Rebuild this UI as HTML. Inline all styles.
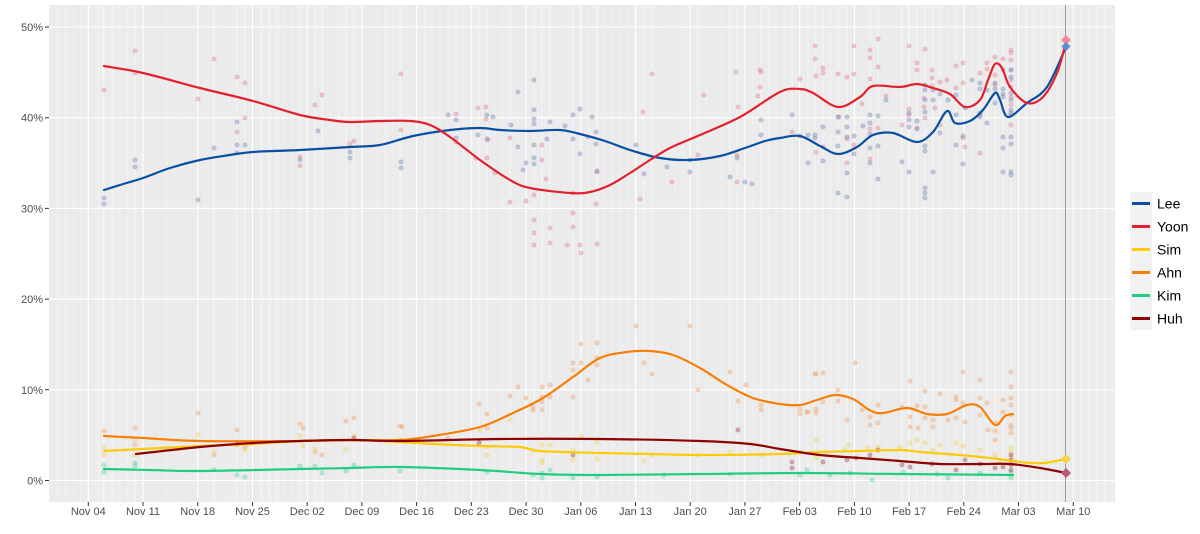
<!DOCTYPE html>
<html><head><meta charset="utf-8"><style>
html,body{margin:0;padding:0;background:#fff;}
svg{display:block;font-family:"Liberation Sans",Arial,sans-serif;}
</style></head><body>
<svg id="chart" width="1200" height="534" viewBox="0 0 1200 534" xmlns="http://www.w3.org/2000/svg">
<defs>
<pattern id="daily" patternUnits="userSpaceOnUse" x="87.8" y="0" width="7.817" height="534">
<rect x="0" y="0" width="1" height="534" fill="#f0f0f0"/>
</pattern>
<clipPath id="pc"><rect x="49" y="5" width="1066" height="497"/></clipPath>
</defs>
<rect x="49" y="5" width="1066" height="497" fill="#ebebeb"/>
<rect x="49" y="5" width="1066" height="497" fill="url(#daily)"/>
<g clip-path="url(#pc)">
<path stroke="#f4f4f4" stroke-width="1" fill="none" d="M99,5v497M103,5v497M113,5v497M104,5v497M135,5v497M214,5v497M237,5v497M245,5v497M262,5v497M270,5v497M278,5v497M300,5v497M315,5v497M322,5v497M346,5v497M354,5v497M400,5v497M456,5v497M478,5v497M487,5v497M510,5v497M534,5v497M542,5v497M550,5v497M573,5v497M597,5v497M636,5v497M644,5v497M652,5v497M698,5v497M730,5v497M737,5v497M761,5v497M792,5v497M808,5v497M815,5v497M823,5v497M838,5v497M847,5v497M870,5v497M878,5v497M902,5v497M917,5v497M925,5v497M933,5v497M940,5v497M956,5v497M980,5v497M987,5v497M995,5v497M1003,5v497M1011,5v497M1026,5v497M1034,5v497M1042,5v497M1050,5v497M1058,5v497M1081,5v497M1089,5v497M1097,5v497M1105,5v497"/>
<path stroke="#ffffff" stroke-width="1.1" fill="none" d="M49,480.5H1115M49,389.8H1115M49,299.1H1115M49,208.4H1115M49,117.7H1115M49,27H1115M88.3,5v497M143,5v497M197.7,5v497M252.5,5v497M307.2,5v497M361.9,5v497M416.6,5v497M471.3,5v497M526.1,5v497M580.8,5v497M635.5,5v497M690.2,5v497M744.9,5v497M799.7,5v497M854.4,5v497M909.1,5v497M963.8,5v497M1018.5,5v497M1073.3,5v497"/>
<line x1="1065.5" y1="5" x2="1065.5" y2="502" stroke="#9a9a9a" stroke-width="1"/>

<!-- Yoon points -->
<g fill="#e8899a" fill-opacity="0.45" stroke="#d06a7a" stroke-opacity="0.3" stroke-width="0.6">
<circle cx="104" cy="90" r="2.2"/><circle cx="135" cy="51" r="2.2"/><circle cx="135" cy="73" r="2.2"/><circle cx="198" cy="99" r="2.2"/><circle cx="214" cy="59" r="2.2"/><circle cx="237" cy="77" r="2.2"/><circle cx="245" cy="83" r="2.2"/><circle cx="245" cy="118" r="2.2"/><circle cx="237" cy="132" r="2.2"/><circle cx="300" cy="157" r="2.2"/><circle cx="300" cy="166" r="2.2"/><circle cx="315" cy="105" r="2.2"/><circle cx="322" cy="95" r="2.2"/><circle cx="350" cy="144" r="2.2"/><circle cx="354" cy="141" r="2.2"/><circle cx="401" cy="74" r="2.2"/><circle cx="401" cy="130" r="2.2"/><circle cx="456" cy="114" r="2.2"/><circle cx="456" cy="142" r="2.2"/><circle cx="478" cy="108" r="2.2"/><circle cx="486" cy="107" r="2.2"/><circle cx="486" cy="119" r="2.2"/><circle cx="488" cy="140" r="2.2"/><circle cx="476" cy="158" r="2.2"/><circle cx="495" cy="173" r="2.2"/><circle cx="487" cy="158" r="2.2"/><circle cx="510" cy="138" r="2.2"/><circle cx="510" cy="202" r="2.2"/><circle cx="526" cy="201" r="2.2"/><circle cx="534" cy="195" r="2.2"/><circle cx="546" cy="179" r="2.2"/><circle cx="542" cy="145" r="2.2"/><circle cx="542" cy="160" r="2.2"/><circle cx="550" cy="228" r="2.2"/><circle cx="534" cy="220" r="2.2"/><circle cx="534" cy="233" r="2.2"/><circle cx="534" cy="245" r="2.2"/><circle cx="550" cy="243" r="2.2"/><circle cx="567" cy="245" r="2.2"/><circle cx="573" cy="227" r="2.2"/><circle cx="573" cy="213" r="2.2"/><circle cx="573" cy="193" r="2.2"/><circle cx="580" cy="245" r="2.2"/><circle cx="581" cy="253" r="2.2"/><circle cx="597" cy="244" r="2.2"/><circle cx="596" cy="204" r="2.2"/><circle cx="597" cy="172" r="2.2"/><circle cx="588" cy="137" r="2.2"/><circle cx="640" cy="199" r="2.2"/><circle cx="652" cy="74" r="2.2"/><circle cx="643" cy="112" r="2.2"/><circle cx="672" cy="182" r="2.2"/><circle cx="698" cy="155" r="2.2"/><circle cx="704" cy="95" r="2.2"/><circle cx="737" cy="155" r="2.2"/><circle cx="737" cy="182" r="2.2"/><circle cx="736" cy="72" r="2.2"/><circle cx="738" cy="107" r="2.2"/><circle cx="758" cy="96" r="2.2"/><circle cx="760" cy="70" r="2.2"/><circle cx="760" cy="87" r="2.2"/><circle cx="761" cy="72" r="2.2"/>
<circle cx="815" cy="46" r="2.2"/><circle cx="815" cy="59" r="2.2"/><circle cx="800" cy="79" r="2.2"/><circle cx="816" cy="76" r="2.2"/><circle cx="823" cy="68" r="2.2"/><circle cx="823" cy="73" r="2.2"/><circle cx="838" cy="74" r="2.2"/><circle cx="847" cy="77" r="2.2"/><circle cx="854" cy="46" r="2.2"/><circle cx="854" cy="74" r="2.2"/><circle cx="870" cy="50" r="2.2"/><circle cx="870" cy="58" r="2.2"/><circle cx="870" cy="79" r="2.2"/><circle cx="878" cy="39" r="2.2"/><circle cx="878" cy="67" r="2.2"/><circle cx="886" cy="96" r="2.2"/><circle cx="839" cy="117" r="2.2"/><circle cx="847" cy="139" r="2.2"/><circle cx="854" cy="145" r="2.2"/><circle cx="847" cy="163" r="2.2"/><circle cx="816" cy="152" r="2.2"/><circle cx="862" cy="104" r="2.2"/><circle cx="909" cy="46" r="2.2"/><circle cx="917" cy="63" r="2.2"/><circle cx="917" cy="70" r="2.2"/><circle cx="925" cy="49" r="2.2"/><circle cx="932" cy="70" r="2.2"/><circle cx="932" cy="78" r="2.2"/><circle cx="932" cy="86" r="2.2"/><circle cx="924" cy="98" r="2.2"/><circle cx="924" cy="107" r="2.2"/><circle cx="909" cy="109" r="2.2"/><circle cx="909" cy="115" r="2.2"/><circle cx="902" cy="125" r="2.2"/><circle cx="917" cy="128" r="2.2"/><circle cx="947" cy="80" r="2.2"/><circle cx="940" cy="82" r="2.2"/><circle cx="956" cy="66" r="2.2"/><circle cx="963" cy="63" r="2.2"/><circle cx="956" cy="88" r="2.2"/><circle cx="963" cy="83" r="2.2"/><circle cx="980" cy="73" r="2.2"/><circle cx="987" cy="63" r="2.2"/><circle cx="987" cy="69" r="2.2"/><circle cx="995" cy="57" r="2.2"/><circle cx="995" cy="75" r="2.2"/><circle cx="1003" cy="59" r="2.2"/><circle cx="1003" cy="70" r="2.2"/><circle cx="1011" cy="50" r="2.2"/><circle cx="1011" cy="53" r="2.2"/><circle cx="1011" cy="60" r="2.2"/><circle cx="1011" cy="70" r="2.2"/><circle cx="1011" cy="80" r="2.2"/><circle cx="1011" cy="87" r="2.2"/><circle cx="1011" cy="97" r="2.2"/><circle cx="1011" cy="105" r="2.2"/><circle cx="1011" cy="115" r="2.2"/><circle cx="1011" cy="125" r="2.2"/><circle cx="995" cy="85" r="2.2"/><circle cx="980" cy="115" r="2.2"/><circle cx="980" cy="153" r="2.2"/><circle cx="965" cy="147" r="2.2"/><circle cx="963" cy="138" r="2.2"/><circle cx="940" cy="125" r="2.2"/><circle cx="935" cy="108" r="2.2"/><circle cx="925" cy="118" r="2.2"/><circle cx="792" cy="132" r="2.2"/><circle cx="823" cy="147" r="2.2"/><circle cx="870" cy="129" r="2.2"/><circle cx="878" cy="128" r="2.2"/><circle cx="870" cy="159" r="2.2"/>
</g>
<!-- Lee points -->
<g fill="#7e92c0" fill-opacity="0.45" stroke="#5c6e9c" stroke-opacity="0.3" stroke-width="0.6">
<circle cx="237" cy="122" r="2.2"/><circle cx="237" cy="145" r="2.2"/><circle cx="245" cy="145" r="2.2"/><circle cx="237" cy="153" r="2.2"/><circle cx="214" cy="148" r="2.2"/><circle cx="135" cy="160" r="2.2"/><circle cx="135" cy="167" r="2.2"/><circle cx="104" cy="198" r="2.2"/><circle cx="104" cy="204" r="2.2"/><circle cx="198" cy="200" r="2.2"/><circle cx="318" cy="131" r="2.2"/><circle cx="350" cy="152" r="2.2"/><circle cx="350" cy="158" r="2.2"/><circle cx="300" cy="160" r="2.2"/><circle cx="401" cy="162" r="2.2"/><circle cx="401" cy="168" r="2.2"/><circle cx="448" cy="115" r="2.2"/><circle cx="456" cy="120" r="2.2"/><circle cx="456" cy="138" r="2.2"/><circle cx="478" cy="135" r="2.2"/><circle cx="487" cy="115" r="2.2"/><circle cx="487" cy="139" r="2.2"/><circle cx="493" cy="117" r="2.2"/><circle cx="511" cy="125" r="2.2"/><circle cx="518" cy="92" r="2.2"/><circle cx="518" cy="147" r="2.2"/><circle cx="523" cy="170" r="2.2"/><circle cx="526" cy="163" r="2.2"/><circle cx="534" cy="80" r="2.2"/><circle cx="534" cy="110" r="2.2"/><circle cx="534" cy="119" r="2.2"/><circle cx="534" cy="124" r="2.2"/><circle cx="534" cy="158" r="2.2"/><circle cx="534" cy="164" r="2.2"/><circle cx="534" cy="145" r="2.2"/><circle cx="547" cy="139" r="2.2"/><circle cx="550" cy="122" r="2.2"/><circle cx="565" cy="126" r="2.2"/><circle cx="573" cy="115" r="2.2"/><circle cx="573" cy="139" r="2.2"/><circle cx="580" cy="109" r="2.2"/><circle cx="580" cy="154" r="2.2"/><circle cx="592" cy="117" r="2.2"/><circle cx="596" cy="132" r="2.2"/><circle cx="596" cy="144" r="2.2"/><circle cx="597" cy="171" r="2.2"/><circle cx="636" cy="145" r="2.2"/><circle cx="644" cy="174" r="2.2"/><circle cx="690" cy="172" r="2.2"/><circle cx="730" cy="177" r="2.2"/><circle cx="737" cy="158" r="2.2"/><circle cx="761" cy="120" r="2.2"/><circle cx="761" cy="135" r="2.2"/><circle cx="745" cy="182" r="2.2"/><circle cx="752" cy="184" r="2.2"/><circle cx="667" cy="167" r="2.2"/><circle cx="690" cy="160" r="2.2"/>
<circle cx="792" cy="115" r="2.2"/><circle cx="800" cy="136" r="2.2"/><circle cx="808" cy="135" r="2.2"/><circle cx="815" cy="135" r="2.2"/><circle cx="815" cy="138" r="2.2"/><circle cx="823" cy="127" r="2.2"/><circle cx="823" cy="161" r="2.2"/><circle cx="808" cy="163" r="2.2"/><circle cx="838" cy="117" r="2.2"/><circle cx="838" cy="132" r="2.2"/><circle cx="838" cy="146" r="2.2"/><circle cx="847" cy="117" r="2.2"/><circle cx="847" cy="127" r="2.2"/><circle cx="847" cy="137" r="2.2"/><circle cx="854" cy="136" r="2.2"/><circle cx="854" cy="154" r="2.2"/><circle cx="863" cy="126" r="2.2"/><circle cx="870" cy="115" r="2.2"/><circle cx="870" cy="123" r="2.2"/><circle cx="870" cy="134" r="2.2"/><circle cx="870" cy="148" r="2.2"/><circle cx="870" cy="163" r="2.2"/><circle cx="878" cy="116" r="2.2"/><circle cx="878" cy="146" r="2.2"/><circle cx="878" cy="179" r="2.2"/><circle cx="886" cy="100" r="2.2"/><circle cx="902" cy="162" r="2.2"/><circle cx="909" cy="113" r="2.2"/><circle cx="909" cy="120" r="2.2"/><circle cx="909" cy="127" r="2.2"/><circle cx="909" cy="172" r="2.2"/><circle cx="917" cy="121" r="2.2"/><circle cx="917" cy="129" r="2.2"/><circle cx="925" cy="85" r="2.2"/><circle cx="925" cy="90" r="2.2"/><circle cx="925" cy="100" r="2.2"/><circle cx="925" cy="112" r="2.2"/><circle cx="925" cy="146" r="2.2"/><circle cx="925" cy="151" r="2.2"/><circle cx="925" cy="188" r="2.2"/><circle cx="925" cy="193" r="2.2"/><circle cx="925" cy="198" r="2.2"/><circle cx="933" cy="90" r="2.2"/><circle cx="933" cy="100" r="2.2"/><circle cx="933" cy="172" r="2.2"/><circle cx="940" cy="94" r="2.2"/><circle cx="940" cy="133" r="2.2"/><circle cx="948" cy="100" r="2.2"/><circle cx="956" cy="95" r="2.2"/><circle cx="956" cy="115" r="2.2"/><circle cx="956" cy="145" r="2.2"/><circle cx="963" cy="136" r="2.2"/><circle cx="963" cy="164" r="2.2"/><circle cx="965" cy="108" r="2.2"/><circle cx="972" cy="80" r="2.2"/><circle cx="980" cy="83" r="2.2"/><circle cx="980" cy="89" r="2.2"/><circle cx="980" cy="113" r="2.2"/><circle cx="980" cy="117" r="2.2"/><circle cx="987" cy="90" r="2.2"/><circle cx="987" cy="123" r="2.2"/><circle cx="995" cy="83" r="2.2"/><circle cx="995" cy="89" r="2.2"/><circle cx="1003" cy="89" r="2.2"/><circle cx="1003" cy="94" r="2.2"/><circle cx="1003" cy="97" r="2.2"/><circle cx="1003" cy="137" r="2.2"/><circle cx="1003" cy="148" r="2.2"/><circle cx="1003" cy="172" r="2.2"/><circle cx="1011" cy="70" r="2.2"/><circle cx="1011" cy="77" r="2.2"/><circle cx="1011" cy="93" r="2.2"/><circle cx="1011" cy="100" r="2.2"/><circle cx="1011" cy="110" r="2.2"/><circle cx="1011" cy="113" r="2.2"/><circle cx="1011" cy="137" r="2.2"/><circle cx="1011" cy="144" r="2.2"/><circle cx="1011" cy="172" r="2.2"/><circle cx="1011" cy="175" r="2.2"/><circle cx="838" cy="193" r="2.2"/><circle cx="847" cy="197" r="2.2"/><circle cx="847" cy="173" r="2.2"/><circle cx="995" cy="103" r="2.2"/>
</g>
<!-- Ahn points -->
<g fill="#f4a064" fill-opacity="0.4" stroke="#e08040" stroke-opacity="0.25" stroke-width="0.6">
<circle cx="104" cy="431" r="2.2"/><circle cx="135" cy="428" r="2.2"/><circle cx="135" cy="445" r="2.2"/><circle cx="198" cy="413" r="2.2"/><circle cx="214" cy="455" r="2.2"/><circle cx="237" cy="430" r="2.2"/><circle cx="245" cy="447" r="2.2"/><circle cx="300" cy="424" r="2.2"/><circle cx="303" cy="428" r="2.2"/><circle cx="315" cy="452" r="2.2"/><circle cx="322" cy="455" r="2.2"/><circle cx="346" cy="421" r="2.2"/><circle cx="354" cy="418" r="2.2"/><circle cx="400" cy="426" r="2.2"/>
<circle cx="402" cy="427" r="2.2"/><circle cx="448" cy="438" r="2.2"/><circle cx="479" cy="404" r="2.2"/><circle cx="487" cy="414" r="2.2"/><circle cx="487" cy="428" r="2.2"/><circle cx="510" cy="396" r="2.2"/><circle cx="518" cy="387" r="2.2"/><circle cx="526" cy="398" r="2.2"/><circle cx="533" cy="407" r="2.2"/><circle cx="533" cy="410" r="2.2"/><circle cx="542" cy="387" r="2.2"/><circle cx="542" cy="397" r="2.2"/><circle cx="542" cy="402" r="2.2"/><circle cx="542" cy="410" r="2.2"/><circle cx="550" cy="385" r="2.2"/><circle cx="550" cy="397" r="2.2"/><circle cx="573" cy="363" r="2.2"/><circle cx="573" cy="370" r="2.2"/><circle cx="573" cy="397" r="2.2"/><circle cx="581" cy="344" r="2.2"/><circle cx="581" cy="363" r="2.2"/><circle cx="588" cy="380" r="2.2"/><circle cx="597" cy="343" r="2.2"/><circle cx="597" cy="358" r="2.2"/><circle cx="597" cy="365" r="2.2"/><circle cx="636" cy="326" r="2.2"/><circle cx="644" cy="363" r="2.2"/><circle cx="652" cy="374" r="2.2"/><circle cx="690" cy="326" r="2.2"/><circle cx="698" cy="390" r="2.2"/><circle cx="730" cy="372" r="2.2"/><circle cx="746" cy="385" r="2.2"/><circle cx="738" cy="401" r="2.2"/><circle cx="761" cy="405" r="2.2"/><circle cx="761" cy="410" r="2.2"/><circle cx="800" cy="409" r="2.2"/><circle cx="800" cy="414" r="2.2"/><circle cx="807" cy="412" r="2.2"/><circle cx="816" cy="374" r="2.2"/><circle cx="816" cy="409" r="2.2"/><circle cx="816" cy="413" r="2.2"/>
<circle cx="815" cy="374" r="2.2"/><circle cx="823" cy="373" r="2.2"/><circle cx="855" cy="363" r="2.2"/><circle cx="838" cy="390" r="2.2"/><circle cx="838" cy="401" r="2.2"/><circle cx="823" cy="402" r="2.2"/><circle cx="808" cy="412" r="2.2"/><circle cx="847" cy="420" r="2.2"/><circle cx="870" cy="417" r="2.2"/><circle cx="870" cy="425" r="2.2"/><circle cx="878" cy="405" r="2.2"/><circle cx="878" cy="423" r="2.2"/><circle cx="862" cy="410" r="2.2"/><circle cx="910" cy="381" r="2.2"/><circle cx="925" cy="391" r="2.2"/><circle cx="940" cy="394" r="2.2"/><circle cx="902" cy="407" r="2.2"/><circle cx="910" cy="417" r="2.2"/><circle cx="910" cy="427" r="2.2"/><circle cx="917" cy="406" r="2.2"/><circle cx="918" cy="428" r="2.2"/><circle cx="925" cy="407" r="2.2"/><circle cx="925" cy="418" r="2.2"/><circle cx="933" cy="420" r="2.2"/><circle cx="933" cy="427" r="2.2"/><circle cx="948" cy="420" r="2.2"/><circle cx="956" cy="397" r="2.2"/><circle cx="956" cy="400" r="2.2"/><circle cx="956" cy="418" r="2.2"/><circle cx="963" cy="372" r="2.2"/><circle cx="963" cy="403" r="2.2"/><circle cx="965" cy="422" r="2.2"/><circle cx="980" cy="380" r="2.2"/><circle cx="980" cy="398" r="2.2"/><circle cx="980" cy="415" r="2.2"/><circle cx="987" cy="403" r="2.2"/><circle cx="995" cy="423" r="2.2"/><circle cx="995" cy="431" r="2.2"/><circle cx="1003" cy="400" r="2.2"/><circle cx="1003" cy="412" r="2.2"/><circle cx="1011" cy="372" r="2.2"/><circle cx="1011" cy="387" r="2.2"/><circle cx="1011" cy="398" r="2.2"/><circle cx="1011" cy="405" r="2.2"/><circle cx="1011" cy="415" r="2.2"/><circle cx="1011" cy="425" r="2.2"/><circle cx="1011" cy="428" r="2.2"/><circle cx="1011" cy="433" r="2.2"/><circle cx="995" cy="440" r="2.2"/><circle cx="988" cy="430" r="2.2"/>
</g>
<!-- Sim points -->
<g fill="#f6d45a" fill-opacity="0.4" stroke="#e0b820" stroke-opacity="0.25" stroke-width="0.6">
<circle cx="104" cy="447" r="2.2"/><circle cx="104" cy="455" r="2.2"/><circle cx="135" cy="440" r="2.2"/><circle cx="135" cy="455" r="2.2"/><circle cx="198" cy="435" r="2.2"/><circle cx="214" cy="452" r="2.2"/><circle cx="237" cy="445" r="2.2"/><circle cx="245" cy="450" r="2.2"/><circle cx="300" cy="436" r="2.2"/><circle cx="303" cy="446" r="2.2"/><circle cx="315" cy="449" r="2.2"/><circle cx="346" cy="449" r="2.2"/><circle cx="354" cy="436" r="2.2"/><circle cx="400" cy="440" r="2.2"/><circle cx="480" cy="430" r="2.2"/><circle cx="480" cy="440" r="2.2"/><circle cx="487" cy="447" r="2.2"/><circle cx="487" cy="455" r="2.2"/><circle cx="510" cy="420" r="2.2"/><circle cx="533" cy="450" r="2.2"/><circle cx="542" cy="445" r="2.2"/><circle cx="542" cy="460" r="2.2"/><circle cx="542" cy="463" r="2.2"/><circle cx="550" cy="445" r="2.2"/><circle cx="573" cy="450" r="2.2"/><circle cx="573" cy="460" r="2.2"/><circle cx="581" cy="436" r="2.2"/><circle cx="597" cy="442" r="2.2"/><circle cx="597" cy="459" r="2.2"/><circle cx="644" cy="461" r="2.2"/><circle cx="652" cy="455" r="2.2"/><circle cx="698" cy="455" r="2.2"/><circle cx="730" cy="452" r="2.2"/><circle cx="761" cy="455" r="2.2"/><circle cx="800" cy="452" r="2.2"/><circle cx="816" cy="440" r="2.2"/><circle cx="816" cy="458" r="2.2"/><circle cx="825" cy="452" r="2.2"/><circle cx="845" cy="450" r="2.2"/><circle cx="848" cy="445" r="2.2"/><circle cx="868" cy="448" r="2.2"/><circle cx="878" cy="447" r="2.2"/><circle cx="900" cy="447" r="2.2"/><circle cx="910" cy="443" r="2.2"/><circle cx="917" cy="440" r="2.2"/><circle cx="925" cy="443" r="2.2"/><circle cx="933" cy="450" r="2.2"/><circle cx="940" cy="445" r="2.2"/><circle cx="956" cy="443" r="2.2"/><circle cx="963" cy="446" r="2.2"/><circle cx="980" cy="450" r="2.2"/><circle cx="995" cy="455" r="2.2"/><circle cx="1011" cy="452" r="2.2"/><circle cx="1011" cy="457" r="2.2"/><circle cx="1011" cy="462" r="2.2"/><circle cx="1000" cy="463" r="2.2"/><circle cx="1011" cy="448" r="2.2"/>
</g>
<!-- Kim points -->
<g fill="#5fd9a3" fill-opacity="0.45" stroke="#30b880" stroke-opacity="0.25" stroke-width="0.6">
<circle cx="104" cy="465" r="2.2"/><circle cx="104" cy="472" r="2.2"/><circle cx="135" cy="463" r="2.2"/><circle cx="135" cy="466" r="2.2"/><circle cx="214" cy="470" r="2.2"/><circle cx="237" cy="475" r="2.2"/><circle cx="245" cy="477" r="2.2"/><circle cx="300" cy="466" r="2.2"/><circle cx="315" cy="466" r="2.2"/><circle cx="322" cy="473" r="2.2"/><circle cx="346" cy="471" r="2.2"/><circle cx="354" cy="465" r="2.2"/><circle cx="400" cy="471" r="2.2"/><circle cx="487" cy="472" r="2.2"/><circle cx="533" cy="475" r="2.2"/><circle cx="542" cy="473" r="2.2"/><circle cx="542" cy="478" r="2.2"/><circle cx="550" cy="470" r="2.2"/><circle cx="573" cy="478" r="2.2"/><circle cx="597" cy="477" r="2.2"/><circle cx="664" cy="475" r="2.2"/><circle cx="730" cy="474" r="2.2"/><circle cx="800" cy="475" r="2.2"/><circle cx="807" cy="470" r="2.2"/><circle cx="830" cy="475" r="2.2"/><circle cx="850" cy="473" r="2.2"/><circle cx="872" cy="480" r="2.2"/><circle cx="903" cy="472" r="2.2"/><circle cx="937" cy="474" r="2.2"/><circle cx="948" cy="478" r="2.2"/><circle cx="980" cy="473" r="2.2"/><circle cx="1011" cy="478" r="2.2"/><circle cx="1011" cy="472" r="2.2"/>
</g>
<!-- Huh points -->
<g fill="#a44a5a" fill-opacity="0.45" stroke="#802030" stroke-opacity="0.25" stroke-width="0.6">
<circle cx="237" cy="444" r="2.2"/><circle cx="354" cy="438" r="2.2"/><circle cx="479" cy="443" r="2.2"/><circle cx="573" cy="455" r="2.2"/><circle cx="738" cy="430" r="2.2"/><circle cx="792" cy="462" r="2.2"/><circle cx="792" cy="468" r="2.2"/><circle cx="823" cy="462" r="2.2"/><circle cx="847" cy="460" r="2.2"/><circle cx="856" cy="458" r="2.2"/><circle cx="870" cy="455" r="2.2"/><circle cx="878" cy="450" r="2.2"/><circle cx="902" cy="465" r="2.2"/><circle cx="910" cy="467" r="2.2"/><circle cx="932" cy="464" r="2.2"/><circle cx="956" cy="470" r="2.2"/><circle cx="965" cy="460" r="2.2"/><circle cx="980" cy="464" r="2.2"/><circle cx="995" cy="468" r="2.2"/><circle cx="1003" cy="467" r="2.2"/><circle cx="1011" cy="455" r="2.2"/><circle cx="1011" cy="460" r="2.2"/><circle cx="1011" cy="465" r="2.2"/><circle cx="1011" cy="470" r="2.2"/>
</g>

<!-- curves -->
<g fill="none" stroke-width="2.2" stroke-linejoin="round" stroke-linecap="round">
<polyline class="sm" stroke="#0a4fa2" points="104,190 120,185 143,178 170,168 200,160 230,155 253,152 300,150 350,147 380,145 413,136 450,130 480,128 500,130 530,131 560,130 580,134 605,141 630,150 660,158 690,160 720,156 745,148 765,141 780,138 800,136 820,146 838,154 857,147 873,135 893,133 917,142 933,132 947,111 955,123 970,121 983,110 995,93 1000,100 1008,117 1027,103 1047,87 1066,47"/>
<polyline class="sm" stroke="#e3202e" points="104,66 143,73 200,88 253,101 300,115 330,120 350,122 380,121 410,121 430,125 450,137 480,160 510,180 530,188 570,193 590,192 610,185 630,173 650,160 670,148 700,135 740,117 780,92 800,89 813,93 838,107 860,97 873,86 900,87 917,84 933,88 950,94 965,107 980,100 988,80 995,64 1002,68 1010,87 1027,103 1043,97 1057,73 1066,42"/>
<polyline class="sm" stroke="#fccb00" points="104,451 143,449 200,446 253,444 300,441 350,440 400,442 433,444 480,446 520,447 540,451 600,453 650,454 700,455 780,454 820,452 860,451 900,450 920,452 960,455 990,458 1013,461 1030,463 1045,463 1066,459"/>
<polyline class="sm" stroke="#f77f07" points="104,436 143,438 200,441 300,441 350,440 400,440 433,436 480,427 513,413 543,398 573,377 600,358 627,352 650,351 673,355 700,368 727,385 753,398 780,404 800,405 817,400 835,395 853,399 877,413 907,408 927,414 947,414 967,405 980,407 995,425 1005,416 1013,414"/>
<polyline class="sm" stroke="#1fce84" points="104,469 150,470 200,471 300,469 350,468 400,467 480,470 540,474 600,475 700,474 800,473 900,474 1013,475"/>
<polyline class="sm" stroke="#8f0000" points="136,454 200,447 253,443 300,441 350,440 400,441 500,439 600,439 700,441 750,444 780,449 820,455 860,458 900,461 940,464 980,464 1010,464 1040,468 1066,473"/>
</g>
<!-- election-day diamonds -->
<path d="M1066,35l5,5l-5,5l-5,-5z" fill="#ef8a9a"/>
<path d="M1066,42l4.5,4.5l-4.5,4.5l-4.5,-4.5z" fill="#5f8fd0"/>
<path d="M1066,454l5,5l-5,5l-5,-5z" fill="#f7d24a"/>
<path d="M1066,468l5,5l-5,5l-5,-5z" fill="#b85a78"/>
</g>

<!-- axis ticks -->
<g stroke="#333" stroke-width="1">
<path d="M45,480.5h4M45,389.8h4M45,299.1h4M45,208.4h4M45,117.7h4M45,27h4"/>
<path d="M88.3,502v4M143,502v4M197.7,502v4M252.5,502v4M307.2,502v4M361.9,502v4M416.6,502v4M471.3,502v4M526.1,502v4M580.8,502v4M635.5,502v4M690.2,502v4M744.9,502v4M799.7,502v4M854.4,502v4M909.1,502v4M963.8,502v4M1018.5,502v4M1073.3,502v4"/>
</g>
<g fill="#4d4d4d" font-size="11" text-anchor="end">
<text x="43" y="484.5">0%</text>
<text x="43" y="393.8">10%</text>
<text x="43" y="303.1">20%</text>
<text x="43" y="212.4">30%</text>
<text x="43" y="121.7">40%</text>
<text x="43" y="31">50%</text>
</g>
<g fill="#4d4d4d" font-size="11" text-anchor="middle">
<text x="88.3" y="515">Nov 04</text>
<text x="143" y="515">Nov 11</text>
<text x="197.7" y="515">Nov 18</text>
<text x="252.5" y="515">Nov 25</text>
<text x="307.2" y="515">Dec 02</text>
<text x="361.9" y="515">Dec 09</text>
<text x="416.6" y="515">Dec 16</text>
<text x="471.3" y="515">Dec 23</text>
<text x="526.1" y="515">Dec 30</text>
<text x="580.8" y="515">Jan 06</text>
<text x="635.5" y="515">Jan 13</text>
<text x="690.2" y="515">Jan 20</text>
<text x="744.9" y="515">Jan 27</text>
<text x="799.7" y="515">Feb 03</text>
<text x="854.4" y="515">Feb 10</text>
<text x="909.1" y="515">Feb 17</text>
<text x="963.8" y="515">Feb 24</text>
<text x="1018.5" y="515">Mar 03</text>
<text x="1073.3" y="515">Mar 10</text>
</g>

<!-- legend -->
<rect x="1130" y="192" width="22" height="138" fill="#f2f2f2"/>
<g stroke-width="3">
<line x1="1132" y1="203.5" x2="1150" y2="203.5" stroke="#0a4fa2"/>
<line x1="1132" y1="226.5" x2="1150" y2="226.5" stroke="#e3202e"/>
<line x1="1132" y1="249.5" x2="1150" y2="249.5" stroke="#fccb00"/>
<line x1="1132" y1="272.5" x2="1150" y2="272.5" stroke="#f77f07"/>
<line x1="1132" y1="295.5" x2="1150" y2="295.5" stroke="#1fce84"/>
<line x1="1132" y1="318.5" x2="1150" y2="318.5" stroke="#8f0000"/>
</g>
<g fill="#000" font-size="14">
<text x="1157" y="208.5">Lee</text>
<text x="1157" y="231.5">Yoon</text>
<text x="1157" y="254.5">Sim</text>
<text x="1157" y="277.5">Ahn</text>
<text x="1157" y="300.5">Kim</text>
<text x="1157" y="323.5">Huh</text>
</g>
</svg>
<script>
(function(){
  var NS="http://www.w3.org/2000/svg";
  var pls=document.querySelectorAll("polyline.sm");
  for(var i=0;i<pls.length;i++){
    var pl=pls[i];
    var raw=pl.getAttribute("points").trim().split(/\s+/).map(function(s){var a=s.split(",");return [parseFloat(a[0]),parseFloat(a[1])];});
    var d="M"+raw[0][0]+","+raw[0][1];
    for(var j=0;j<raw.length-1;j++){
      var p0=raw[j>0?j-1:j],p1=raw[j],p2=raw[j+1],p3=raw[j+2<raw.length?j+2:j+1];
      var c1x=p1[0]+(p2[0]-p0[0])/6,c1y=p1[1]+(p2[1]-p0[1])/6;
      var c2x=p2[0]-(p3[0]-p1[0])/6,c2y=p2[1]-(p3[1]-p1[1])/6;
      d+="C"+c1x.toFixed(2)+","+c1y.toFixed(2)+" "+c2x.toFixed(2)+","+c2y.toFixed(2)+" "+p2[0]+","+p2[1];
    }
    var p=document.createElementNS(NS,"path");
    p.setAttribute("d",d);
    p.setAttribute("stroke",pl.getAttribute("stroke"));
    pl.parentNode.replaceChild(p,pl);
  }
})();
</script>
</body></html>
